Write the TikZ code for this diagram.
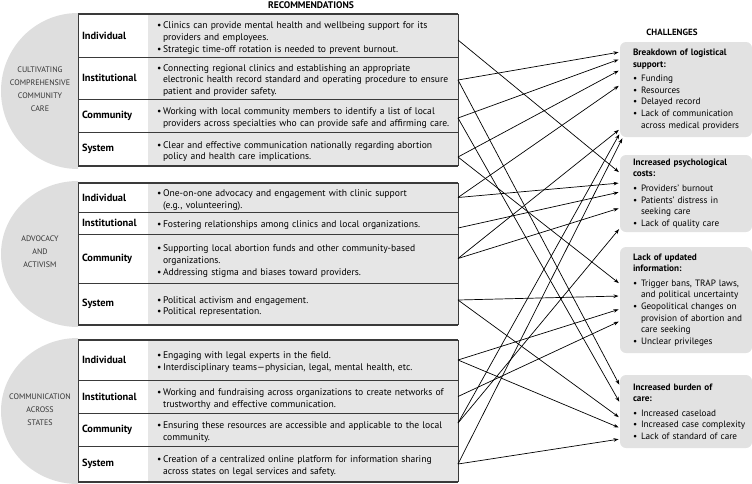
\documentclass[tikz,border=0pt]{standalone}
\usepackage{fontspec}
\setmainfont{PT Sans}
\usetikzlibrary{arrows.meta}
\usetikzlibrary{shapes}
\usetikzlibrary{positioning}

\definecolor{cellgray}{HTML}{E6E6E6}
\definecolor{discgray}{HTML}{DEDEDE}
\definecolor{boxgray}{HTML}{E2E2E2}
\definecolor{rulegray}{HTML}{3A3A3A}

\hyphenpenalty=10000
\exhyphenpenalty=10000

% bullet item: bullet sits 4pt in, text hangs at 10pt
\newcommand{\bul}{\par\hangindent=10pt\hangafter=1\noindent\makebox[10pt][l]{\hspace{4pt}\textbullet}\ignorespaces}
% bullet item inside the challenge boxes
\newcommand{\cbul}{\par\hangindent=8pt\hangafter=1\noindent\makebox[8pt][l]{\textbullet}\ignorespaces}

\tikzstyle{rectext} = [rectangle, fill=cellgray, minimum width=310pt, text width=300pt, inner xsep=5pt, inner ysep=0pt, outer sep=0pt, align=left, anchor=north west, font=\fontsize{9.6}{11.9}\selectfont]
\tikzstyle{reclabel} = [rectangle, fill=white, minimum width=70pt, text width=62pt, inner xsep=4pt, inner ysep=0pt, outer sep=0pt, align=left, font=\bfseries\fontsize{10.4}{11}\selectfont]
\tikzstyle{discname} = [align=center, font=\fontsize{8}{13}\selectfont, text=black!80]
\tikzstyle{chalbox} = [rectangle, rounded corners=6pt, fill=boxgray, minimum width=132pt, text width=121pt, inner xsep=5.5pt, inner ysep=0pt, outer sep=0pt, align=left, anchor=north west, font=\fontsize{9.2}{11.6}\selectfont]
\tikzstyle{heading} = [font=\bfseries\fontsize{9}{10}\selectfont]
\tikzstyle{rowline} = [line width=0.7pt, draw=rulegray]
\tikzstyle{groupline} = [line width=1.4pt, draw=rulegray]
\tikzstyle{arrow} = [line width=0.7pt, -{Stealth[length=5pt, width=3.6pt]}, shorten >=1.5pt]

\begin{document}
\begin{tikzpicture}[x=1pt, y=-1pt]
\useasboundingbox (0,0) rectangle (752,483);

% half discs behind the three groups
\fill[discgray] (78,13) arc[start angle=90, end angle=270, x radius=77pt, y radius=78pt] -- cycle;
\fill[discgray] (78,181) arc[start angle=90, end angle=270, x radius=77pt, y radius=73pt] -- cycle;
\fill[discgray] (78,338) arc[start angle=90, end angle=270, x radius=77pt, y radius=73pt] -- cycle;

\node [discname] (g1name) at (40,89.5) {CULTIVATING\\COMPREHENSIVE\\COMMUNITY\\CARE};
\node [discname] (g2name) at (40,252) {ADVOCACY\\AND\\ACTIVISM};
\node [discname] (g3name) at (40,410) {COMMUNICATION\\ACROSS\\STATES};

\node [heading, font=\bfseries\fontsize{9.6}{10}\selectfont] (rectitle) at (311,5) {RECOMMENDATIONS};
\node [heading] (chaltitle) at (672,32) {CHALLENGES};

% group 1
\node [rectext, minimum height=43pt] (g1ind) at (148,14) {\bul Clinics can provide mental health and wellbeing support for its\newline providers and employees.\bul Strategic time-off rotation is needed to prevent burnout.\par};
\node [rectext, minimum height=42pt, below=0pt of g1ind] (g1inst) {\bul Connecting regional clinics and establishing an appropriate\newline electronic health record standard and operating procedure to ensure\newline patient and provider safety.\par};
\node [rectext, minimum height=33pt, below=0pt of g1inst] (g1com) {\bul Working with local community members to identify a list of local\newline providers across specialties who can provide safe and affirming care.\par};
\node [rectext, minimum height=34pt, below=0pt of g1com] (g1sys) {\bul Clear and effective communication nationally regarding abortion\newline policy and health care implications.\par};
\node [reclabel, minimum height=43pt, left=0pt of g1ind] (g1indl) {Individual};
\node [reclabel, minimum height=42pt, left=0pt of g1inst] (g1instl) {Institutional};
\node [reclabel, minimum height=33pt, left=0pt of g1com] (g1coml) {Community};
\node [reclabel, minimum height=34pt, left=0pt of g1sys] (g1sysl) {System};

% group 2
\node [rectext, minimum height=29pt] (g2ind) at (148,183) {\bul One-on-one advocacy and engagement with clinic support\newline (e.g., volunteering).\par};
\node [rectext, minimum height=22pt, below=0pt of g2ind] (g2inst) {\bul Fostering relationships among clinics and local organizations.\par};
\node [rectext, minimum height=49pt, below=0pt of g2inst] (g2com) {\bul Supporting local abortion funds and other community-based\newline organizations.\bul Addressing stigma and biases toward providers.\par};
\node [rectext, minimum height=42pt, below=0pt of g2com] (g2sys) {\bul Political activism and engagement.\bul Political representation.\par};
\node [reclabel, minimum height=29pt, left=0pt of g2ind] (g2indl) {Individual};
\node [reclabel, minimum height=22pt, left=0pt of g2inst] (g2instl) {Institutional};
\node [reclabel, minimum height=49pt, left=0pt of g2com] (g2coml) {Community};
\node [reclabel, minimum height=42pt, left=0pt of g2sys] (g2sysl) {System};

% group 3
\node [rectext, minimum height=40pt] (g3ind) at (148,340) {\bul Engaging with legal experts in the field.\bul Interdisciplinary teams---physician, legal, mental health, etc.\par};
\node [rectext, minimum height=33pt, below=0pt of g3ind] (g3inst) {\bul Working and fundraising across organizations to create networks of\newline trustworthy and effective communication.\par};
\node [rectext, minimum height=33pt, below=0pt of g3inst] (g3com) {\bul Ensuring these resources are accessible and applicable to the local\newline community.\par};
\node [rectext, minimum height=36pt, below=0pt of g3com] (g3sys) {\bul Creation of a centralized online platform for information sharing\newline across states on legal services and safety.\par};
\node [reclabel, minimum height=40pt, left=0pt of g3ind] (g3indl) {Individual};
\node [reclabel, minimum height=33pt, left=0pt of g3inst] (g3instl) {Institutional};
\node [reclabel, minimum height=33pt, left=0pt of g3com] (g3coml) {Community};
\node [reclabel, minimum height=36pt, left=0pt of g3sys] (g3sysl) {System};

% table rules
\draw [rowline] (g1indl.south west) -- (g1ind.south east);
\draw [rowline] (g1instl.south west) -- (g1inst.south east);
\draw [rowline] (g1coml.south west) -- (g1com.south east);
\draw [rowline] (g1indl.north west) -- (g1sysl.south west);
\draw [rowline] (g1ind.north east) -- (g1sys.south east);
\draw [groupline] (g1indl.north west) -- (g1ind.north east);
\draw [groupline] (g1sysl.south west) -- (g1sys.south east);

\draw [rowline] (g2indl.south west) -- (g2ind.south east);
\draw [rowline] (g2instl.south west) -- (g2inst.south east);
\draw [rowline] (g2coml.south west) -- (g2com.south east);
\draw [rowline] (g2indl.north west) -- (g2sysl.south west);
\draw [rowline] (g2ind.north east) -- (g2sys.south east);
\draw [groupline] (g2indl.north west) -- (g2ind.north east);
\draw [groupline] (g2sysl.south west) -- (g2sys.south east);

\draw [rowline] (g3indl.south west) -- (g3ind.south east);
\draw [rowline] (g3instl.south west) -- (g3inst.south east);
\draw [rowline] (g3coml.south west) -- (g3com.south east);
\draw [rowline] (g3indl.north west) -- (g3sysl.south west);
\draw [rowline] (g3ind.north east) -- (g3sys.south east);
\draw [groupline] (g3indl.north west) -- (g3ind.north east);
\draw [groupline] (g3sysl.south west) -- (g3sys.south east);

% challenges
\node [chalbox, minimum height=95pt] (logist) at (620,42) {\leftskip=7.5pt {\bfseries Breakdown of logistical\newline support:}\par\vspace{3pt}\cbul Funding\cbul Resources\cbul Delayed record\cbul Lack of communication\newline across medical providers\par};
\node [chalbox, minimum height=77pt, below=18pt of logist] (psych) {\leftskip=7.5pt {\bfseries Increased psychological\newline costs:}\par\vspace{3pt}\cbul Providers’ burnout\cbul Patients’ distress in\newline seeking care\cbul Lack of quality care\par};
\node [chalbox, minimum height=106pt, below=15pt of psych] (info) {\leftskip=7.5pt {\bfseries Lack of updated\newline information:}\par\vspace{3pt}\cbul Trigger bans, TRAP laws,\newline and political uncertainty\cbul Geopolitical changes on\newline provision of abortion and\newline care seeking\cbul Unclear privileges\par};
\node [chalbox, minimum height=73pt, below=22pt of info] (burden) {\leftskip=7.5pt {\bfseries Increased burden of\newline care:}\par\vspace{3pt}\cbul Increased caseload\cbul Increased case complexity\cbul Lack of standard of care\par};

% links
\draw [arrow] ([yshift=-4.5pt]g1ind.east) -- ([yshift=20.5pt]psych.west);
\draw [arrow] ([yshift=-2pt]g1inst.east) -- ([yshift=37.5pt]logist.west);
\draw [arrow] ([yshift=-2pt]g1inst.east) -- ([yshift=25.5pt]burden.west);
\draw [arrow] ([yshift=-2.5pt]g1com.east) -- ([yshift=30.5pt]logist.west);
\draw [arrow] ([yshift=-2.5pt]g1com.east) -- ([yshift=8.5pt]burden.west);
\draw [arrow] ([yshift=-8pt]g1sys.east) -- ([yshift=19.5pt]logist.west);
\draw [arrow] ([yshift=-8pt]g1sys.east) -- ([yshift=16pt]info.west);
\draw [arrow] (g2ind.east) -- ([yshift=4.5pt]logist.west);
\draw [arrow] (g2ind.east) -- ([yshift=10.5pt]psych.west);
\draw [arrow] ([yshift=-5pt]g2inst.east) -- ([yshift=1.5pt]psych.west);
\draw [arrow] (g2com.east) -- ([yshift=-14.5pt]psych.west);
\draw [arrow] (g2com.east) -- ([yshift=-39.5pt]logist.west);
\draw [arrow] ([yshift=4pt]g2sys.east) -- ([yshift=4pt]info.west);
\draw [arrow] ([yshift=4pt]g2sys.east) -- ([yshift=-6.5pt]burden.west);
\draw [arrow] (g3ind.east) -- ([yshift=-9pt]info.west);
\draw [arrow] (g3ind.east) -- ([yshift=-16.5pt]burden.west);
\draw [arrow] (g3inst.east) -- ([yshift=-21pt]info.west);
\draw [arrow] ([yshift=6.5pt]g3com.east) -- ([yshift=-43.5pt]logist.west);
\draw [arrow] ([yshift=6.5pt]g3com.east) -- ([yshift=-34.5pt]psych.west);
\draw [arrow] (g3sys.east) -- ([xshift=3pt]logist.south west);
\draw [arrow] (g3sys.east) -- ([yshift=-27.5pt]burden.west);

\end{tikzpicture}
\end{document}
